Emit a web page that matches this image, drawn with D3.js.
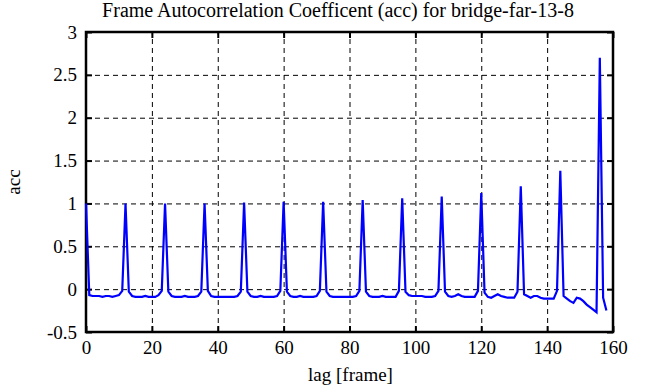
<!DOCTYPE html>
<html>
<head>
<meta charset="utf-8">
<script src="https://cdn.jsdelivr.net/npm/d3@7"></script>
<style>
  body { margin: 0; background: #fff; }
  svg text { font-family: 'Liberation Serif', 'Times New Roman', serif; fill: #000; }
  .grid line { stroke: #000; stroke-width: 1; stroke-dasharray: 5,4; }
  .grid path { display: none; }
  .axis path { display: none; }
  .axis line { stroke: #000; stroke-width: 2; }
</style>
</head>
<body>
<script>
const chartTitle = 'Frame Autocorrelation Coefficent (acc) for bridge-far-13-8';
const xLabel = 'lag [frame]';
const yLabel = 'acc';
const xTicks = [0, 20, 40, 60, 80, 100, 120, 140, 160];
const yTicks = [-0.5, 0, 0.5, 1, 1.5, 2, 2.5, 3];

// acc value for each lag 0..158
const accValues = [
    1.00, -0.07, -0.08, -0.08, -0.08, -0.09, -0.08, -0.08, -0.09, -0.08,
    -0.07, -0.02, 1.00, -0.03, -0.08, -0.09, -0.09, -0.09, -0.08, -0.09,
    -0.09, -0.09, -0.07, -0.02, 1.00, -0.03, -0.08, -0.09, -0.09, -0.09,
    -0.08, -0.09, -0.09, -0.09, -0.08, -0.03, 1.00, -0.02, -0.08, -0.09,
    -0.09, -0.09, -0.09, -0.09, -0.09, -0.09, -0.08, -0.03, 1.01, -0.03,
    -0.08, -0.09, -0.09, -0.08, -0.09, -0.09, -0.09, -0.09, -0.08, -0.02,
    1.02, -0.03, -0.08, -0.09, -0.09, -0.08, -0.09, -0.09, -0.09, -0.09,
    -0.08, -0.02, 1.02, -0.03, -0.08, -0.09, -0.09, -0.09, -0.09, -0.09,
    -0.09, -0.09, -0.08, -0.02, 1.04, -0.03, -0.08, -0.09, -0.09, -0.09,
    -0.08, -0.09, -0.09, -0.09, -0.09, -0.02, 1.06, -0.03, -0.07, -0.08,
    -0.08, -0.08, -0.08, -0.09, -0.09, -0.09, -0.08, -0.02, 1.08, -0.03,
    -0.08, -0.09, -0.08, -0.06, -0.08, -0.09, -0.09, -0.09, -0.09, -0.02,
    1.12, -0.04, -0.09, -0.10, -0.08, -0.06, -0.08, -0.09, -0.10, -0.10,
    -0.10, -0.03, 1.20, -0.06, -0.08, -0.10, -0.08, -0.08, -0.10, -0.11,
    -0.11, -0.11, -0.11, -0.02, 1.38, -0.08, -0.11, -0.14, -0.16, -0.10,
    -0.11, -0.14, -0.18, -0.21, -0.24, -0.27, 2.70, -0.10, -0.25
];
const lags = accValues.map((v, i) => i);

const margin = {top: 32, right: 38, bottom: 55, left: 86};
const W = 651, H = 387;
const width = W - margin.left - margin.right;
const height = H - margin.top - margin.bottom;
const serif = "Liberation Serif";

const svg = d3.select('body').append('svg')
    .attr('width', W)
    .attr('height', H);

const g = svg.append('g')
    .attr('transform', 'translate(' + margin.left + ',' + margin.top + ')');

const x = d3.scaleLinear().domain([0, 160]).range([0, width]);
const y = d3.scaleLinear().domain([-0.5, 3]).range([height, 0]);

// dashed grid
g.append('g')
    .attr('class', 'grid')
    .attr('transform', 'translate(0,' + height + ')')
    .call(d3.axisBottom(x).tickValues(xTicks.slice(1, -1)).tickSize(-height).tickFormat(''));
g.append('g')
    .attr('class', 'grid')
    .call(d3.axisLeft(y).tickValues(yTicks.slice(1, -1)).tickSize(-width).tickFormat(''));

// inward ticks on all four sides
g.append('g')
    .attr('class', 'axis')
    .attr('transform', 'translate(0,' + height + ')')
    .call(d3.axisBottom(x).tickValues(xTicks).tickSize(-6).tickPadding(12).tickFormat(d => String(d)))
    .call(s => s.selectAll('text')
        .attr('y', 0).attr('dy', '1.15em')
        .style('font-family', serif).style('font-size', '19px'));
g.append('g')
    .attr('class', 'axis')
    .call(d3.axisTop(x).tickValues(xTicks).tickSize(-6).tickFormat(''));
g.append('g')
    .attr('class', 'axis')
    .call(d3.axisLeft(y).tickValues(yTicks).tickSize(-6).tickPadding(9).tickFormat(d => String(d)))
    .call(s => s.selectAll('text')
        .style('font-family', serif).style('font-size', '19px'));
g.append('g')
    .attr('class', 'axis')
    .attr('transform', 'translate(' + width + ',0)')
    .call(d3.axisRight(y).tickValues(yTicks).tickSize(-6).tickFormat(''));

// border
g.append('rect')
    .attr('width', width)
    .attr('height', height)
    .attr('fill', 'none')
    .attr('stroke', '#000')
    .attr('stroke-width', 2.5);

const line = d3.line()
    .x((d, i) => x(lags[i]))
    .y(d => y(d));

g.append('path')
    .datum(accValues)
    .attr('d', line)
    .attr('fill', 'none')
    .attr('stroke', '#0000ff')
    .attr('stroke-width', 2.2)
    .attr('stroke-linejoin', 'miter');

svg.append('text')
    .attr('x', 338)
    .attr('y', 17)
    .attr('text-anchor', 'middle')
    .style('font-size', '20px')
    .text(chartTitle);

svg.append('text')
    .attr('x', margin.left + width / 2 + 1)
    .attr('y', 381)
    .attr('text-anchor', 'middle')
    .style('font-size', '19px')
    .text(xLabel);

svg.append('text')
    .attr('transform', 'translate(20,' + (margin.top + height / 2) + ') rotate(-90)')
    .attr('text-anchor', 'middle')
    .style('font-size', '19px')
    .text(yLabel);
</script>
</body>
</html>
